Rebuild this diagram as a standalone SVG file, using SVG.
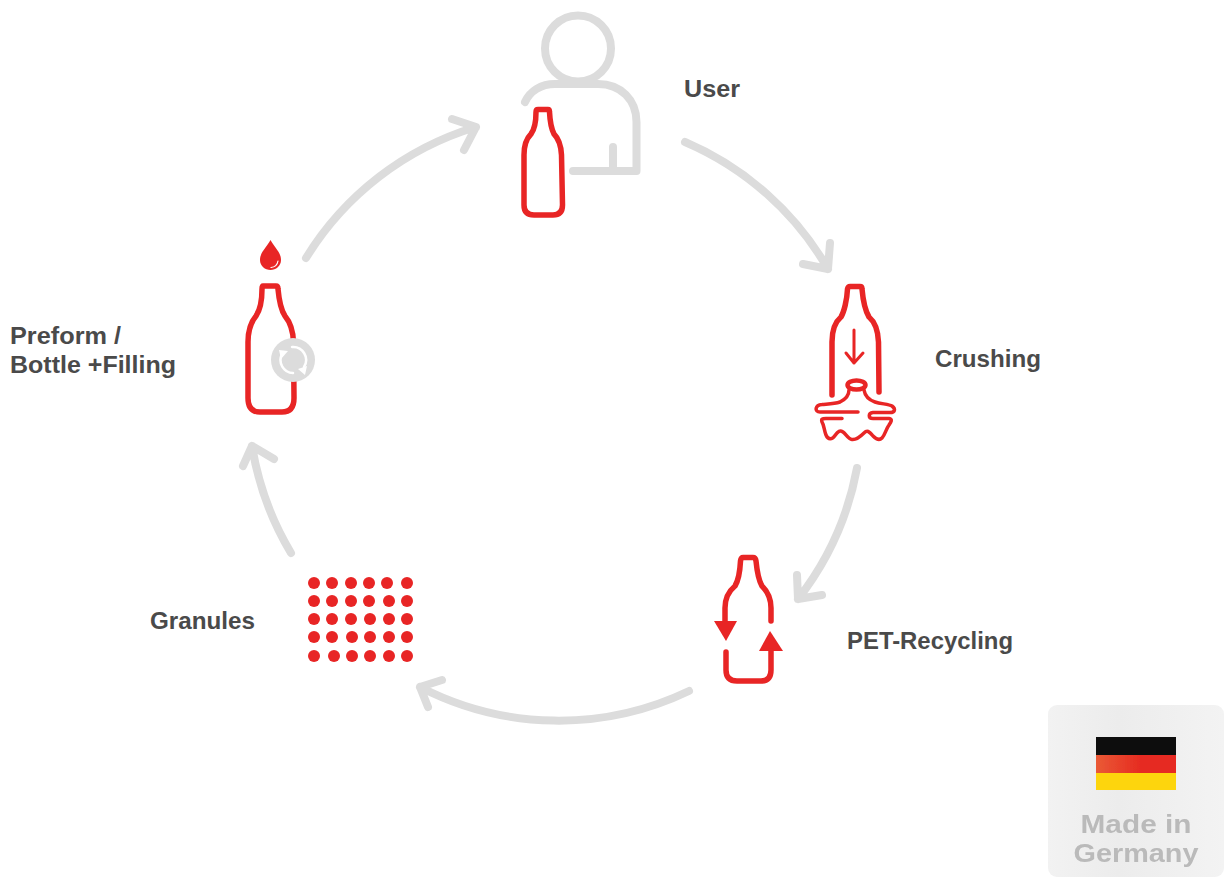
<svg xmlns="http://www.w3.org/2000/svg" width="1224" height="877" viewBox="0 0 1224 877">
<defs>
<style>
.g{fill:none;stroke:#dcdcdc;stroke-width:8;stroke-linecap:round;stroke-linejoin:round}
.r{fill:none;stroke:#e82525;stroke-width:5.500;stroke-linecap:round;stroke-linejoin:round}
.c{fill:none;stroke:#e82525;stroke-width:3.500;stroke-linecap:round;stroke-linejoin:round}
.d{fill:#e82525}
.t{font-family:"Liberation Sans",Arial,sans-serif;font-weight:700;font-size:24.500px;fill:#4a4a4a}
.b{font-family:"Liberation Sans",Arial,sans-serif;font-weight:700;font-size:26px;fill:#bababa;text-anchor:middle}
</style>
<linearGradient id="bg" x1="0" y1="0" x2="1" y2="0"><stop offset="0" stop-color="#f2f2f2"/><stop offset="0.4" stop-color="#ececec"/><stop offset="1" stop-color="#f3f3f3"/></linearGradient>
<linearGradient id="fr" x1="0" y1="0" x2="1" y2="0"><stop offset="0" stop-color="#ea5a35"/><stop offset="0.55" stop-color="#e62c22"/><stop offset="1" stop-color="#e62c22"/></linearGradient>
<filter id="soft" x="-5%" y="-5%" width="110%" height="110%"><feGaussianBlur stdDeviation="0.7"/></filter>
</defs>
<rect width="1224" height="877" fill="#fff"/>
<g id="connectors">
<path class="g" d="M306 258A302 302 0 0 1 476 127M452 119L476 127L464 150"/>
<path class="g" d="M685 142A302 302 0 0 1 828 269M803 264L828 269L830 243"/>
<path class="g" d="M857 468A302 302 0 0 1 798 599M797 575L798 599L822 595"/>
<path class="g" d="M689 691A302 302 0 0 1 420 687M442 680L420 687L428 707"/>
<path class="g" d="M291 553A302 302 0 0 1 252 446M243 466L252 446L274 459"/>
</g>
<g id="node-user">
<circle class="g" cx="578" cy="48.500" r="33"/>
<path class="g" d="M525 102C530 91 541 84 555 84H598C621 84 636.500 100 636.500 122V171H573M613 147V171"/>
<path class="r" d="M538 109.500H548Q549.500 109.500 549.500 112C550 122 552 130 554 134C558 138 561 145 561.500 155L562.500 205Q562.500 215 553 215H534Q524 215 524 205L524 155C524 145 527 138 531 134C534 130 536 122 536 112Q536 109.500 538 109.500Z"/>
<text class="t" x="684" y="97" textLength="56" lengthAdjust="spacingAndGlyphs">User</text>
</g>
<g id="node-crushing">
<path class="r" d="M832 395V342C832 330 835 322 841 317C844 312 847 300 847.500 289Q848 286.500 850 286.500H860Q862 286.500 862 289C863 300 866 312 869 317C875 322 878 330 878.500 342L879 392"/>
<path class="c" style="stroke-width:3" d="M854 330V363M846 353L854 363L863 353"/>
<ellipse class="c" style="stroke-width:4.500" cx="856.500" cy="385" rx="9" ry="4.500"/>
<path class="c" d="M849 390C849 396 846 399 840 402C834 404 826 404 822 404.500C815 405 814 412 820 412H858"/>
<path class="c" d="M864 390C865 396 869 400 875 402C881 404 889 404 892 406C896 409 895 412.500 890 412.500H873C868 413 868 418.500 873 418.500H889C893 419 891 422 889 425C886 429 885 435 882 438C879 441 876 439 873 436C869 431 867 430 864 433C860 437 856 440 852 439.500C848 439 846 434 843 432C840 430 838 431 835 435.500C832 440 828 440 826 435C824 430 824 425 822 422C821 419 822 418.500 826 418.500H842"/>
<text class="t" x="935" y="367" textLength="106" lengthAdjust="spacingAndGlyphs">Crushing</text>
</g>
<g id="node-recycling">
<path class="r" d="M725 622V608C725 598 729 591 735 586C738 581 740 571 740.500 561Q741 557.500 743 557.500H753Q755.500 557.500 756 561C757 571 759 581 762 586C767 591 771 598 771 608V621"/>
<path class="d" d="M714 621H737L726 641Z"/>
<path class="d" d="M770 631L759 651H783Z"/>
<path class="r" d="M726 652V670Q726 681 737 681H761Q771 681 771 670V651"/>
<text class="t" x="847" y="649" textLength="166" lengthAdjust="spacingAndGlyphs">PET-Recycling</text>
</g>
<g id="node-granules">
<g class="d">
<circle cx="314" cy="583" r="6"/><circle cx="332" cy="583" r="6"/><circle cx="351" cy="583" r="6"/><circle cx="369" cy="583" r="6"/><circle cx="387" cy="583" r="6"/><circle cx="407" cy="583" r="6"/>
<circle cx="314" cy="601" r="6"/><circle cx="332" cy="601" r="6"/><circle cx="351" cy="601" r="6"/><circle cx="369" cy="601" r="6"/><circle cx="389" cy="601" r="6"/><circle cx="407" cy="601" r="6"/>
<circle cx="314" cy="619" r="6"/><circle cx="332" cy="619" r="6"/><circle cx="351" cy="619" r="6"/><circle cx="370" cy="619" r="6"/><circle cx="389" cy="619" r="6"/><circle cx="407" cy="619" r="6"/>
<circle cx="314" cy="637" r="6"/><circle cx="332" cy="637" r="6"/><circle cx="352" cy="637" r="6"/><circle cx="370" cy="637" r="6"/><circle cx="389" cy="637" r="6"/><circle cx="407" cy="637" r="6"/>
<circle cx="314" cy="656" r="6"/><circle cx="334" cy="656" r="6"/><circle cx="352" cy="656" r="6"/><circle cx="370" cy="656" r="6"/><circle cx="389" cy="656" r="6"/><circle cx="407" cy="656" r="6"/>
</g>
<text class="t" x="150" y="629" textLength="105" lengthAdjust="spacingAndGlyphs">Granules</text>
</g>
<g id="node-preform">
<path class="d" d="M270.500 240C267 247 260 252 260 260C260 266 265 270 270.500 270C276 270 281 266 281 260C281 252 274 247 270.500 240Z"/>
<path d="M271 267.500Q277 267 278 261" fill="none" stroke="#fff" stroke-width="1.200" stroke-linecap="round"/>
<path class="r" d="M263 286H276Q278 286 278 289C279 300 281 310 285 316C290 322 293 330 293.500 342L294 398Q294 412 282 412H260Q248 412 248 398L248 342C248 330 251 322 256 316C260 310 262 300 262 289Q262 286 263 286Z"/>
<circle cx="293" cy="360" r="22" fill="#dcdcdc"/>
<path d="M282 354A13 13 0 0 0 293 373M292 347A13 13 0 0 1 304 367" fill="none" stroke="#fff" stroke-width="2.500" stroke-linecap="round"/>
<path d="M279 350L288 351L281 359ZM307 366L305 375L298 369Z" fill="#fff"/>
<text class="t" x="10" y="344" textLength="111" lengthAdjust="spacingAndGlyphs">Preform /</text>
<text class="t" x="10" y="373" textLength="166" lengthAdjust="spacingAndGlyphs">Bottle +Filling</text>
</g>
<g id="badge">
<rect x="1048" y="705" width="176" height="172" rx="9" fill="url(#bg)"/>
<g filter="url(#soft)">
<rect x="1096" y="737" width="80" height="18" fill="#0a0a0a"/>
<rect x="1096" y="755" width="80" height="18" fill="url(#fr)"/>
<rect x="1096" y="773" width="80" height="17" fill="#fdd50a"/>
<text class="b" x="1136" y="833" textLength="111" lengthAdjust="spacingAndGlyphs">Made in</text>
<text class="b" x="1136" y="862" textLength="125" lengthAdjust="spacingAndGlyphs">Germany</text>
</g>
</g>
</svg>
